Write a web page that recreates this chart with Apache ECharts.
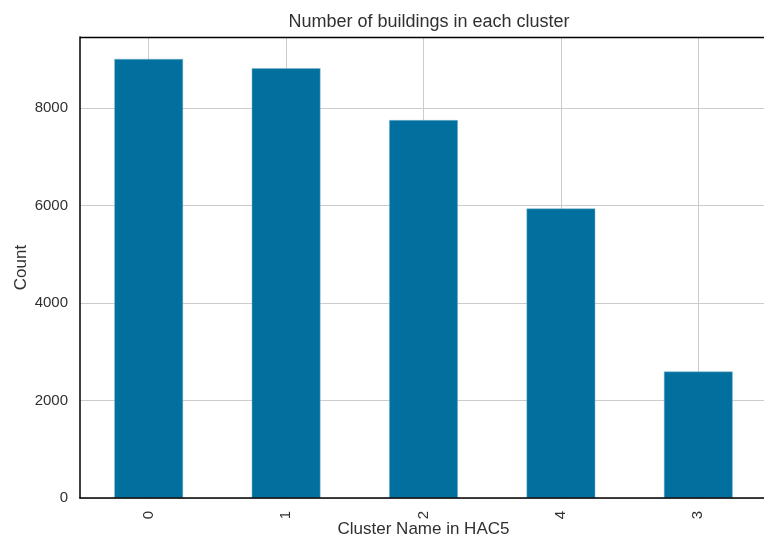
<!DOCTYPE html>
<html>
<head>
<meta charset="utf-8">
<script src="https://cdn.jsdelivr.net/npm/echarts@6/dist/echarts.min.js"></script>
<style>
  html, body { margin: 0; padding: 0; background: #fff; }
  #chart { width: 764px; height: 538px; }
</style>
</head>
<body>
<div id="chart"></div>
<script>
// Cluster labels in the order the bars are drawn
const clusters = ['0', '1', '2', '4', '3'];
// Building counts per cluster
const counts = [9010, 8820, 7755, 5940, 2595];
// Y axis ticks
const yTicks = [0, 2000, 4000, 6000, 8000];

const font = 'Liberation Sans, Arial, sans-serif';
const textColor = '#303030';

// Helper axis: half-step slots so vertical grid lines fall on the bar centres
const gridSlots = [];
for (let i = 0; i <= clusters.length * 2; i++) gridSlots.push(String(i));

const chart = echarts.init(document.getElementById('chart'), null, { renderer: 'canvas' });
chart.setOption({
  animation: false,
  backgroundColor: '#ffffff',
  title: {
    text: 'Number of buildings in each cluster',
    left: 424,
    textAlign: 'center',
    top: 8,
    textStyle: { fontFamily: font, fontSize: 18, fontWeight: 'normal', color: textColor }
  },
  grid: { left: 80, top: 37, width: 687, height: 461, containLabel: false, outerBoundsMode: 'none' },
  xAxis: [{
    type: 'category',
    data: clusters,
    name: 'Cluster Name in HAC5',
    nameLocation: 'middle',
    nameGap: 23,
    nameMoveOverlap: false,
    nameTextStyle: { fontFamily: font, fontSize: 17, color: textColor },
    boundaryGap: true,
    axisLine: { show: true, lineStyle: { color: '#000', width: 1.5 } },
    axisTick: { show: false },
    axisLabel: {
      rotate: 90, margin: 13, fontFamily: font, fontSize: 15, color: textColor,
      interval: 0
    },
    splitLine: { show: false },
    z: 5
  }, {
    type: 'category',
    data: gridSlots,
    boundaryGap: false,
    position: 'bottom',
    axisLine: { show: false },
    axisTick: { show: false },
    axisLabel: { show: false },
    splitLine: {
      show: true,
      interval: (idx) => idx % 2 === 1,
      lineStyle: { color: '#cccccc', width: 1 }
    }
  }],
  yAxis: {
    type: 'value',
    min: 0,
    max: 9460,
    interval: 2000,
    name: 'Count',
    nameLocation: 'middle',
    nameGap: 50,
    nameMoveOverlap: false,
    nameRotate: 90,
    nameTextStyle: { fontFamily: font, fontSize: 17, color: textColor },
    axisLine: { show: true, lineStyle: { color: '#000', width: 1.5 } },
    axisTick: { show: false },
    axisLabel: {
      showMaxLabel: false, margin: 12, fontFamily: font, fontSize: 15, color: textColor,
      formatter: v => (yTicks.indexOf(v) >= 0 ? String(v) : '')
    },
    splitLine: { show: true, lineStyle: { color: '#cccccc', width: 1 } }
  },
  series: [{
    type: 'bar',
    xAxisIndex: 0,
    data: counts,
    barWidth: '50%',
    itemStyle: { color: '#02709f', borderColor: '#7fb6cf', borderWidth: 0.5 }
  }],
  graphic: [{
    type: 'line',
    shape: { x1: 80, y1: 37.5, x2: 764, y2: 37.5 },
    style: { stroke: '#000', lineWidth: 1.5 },
    z: 10
  }]
});
</script>
</body>
</html>
